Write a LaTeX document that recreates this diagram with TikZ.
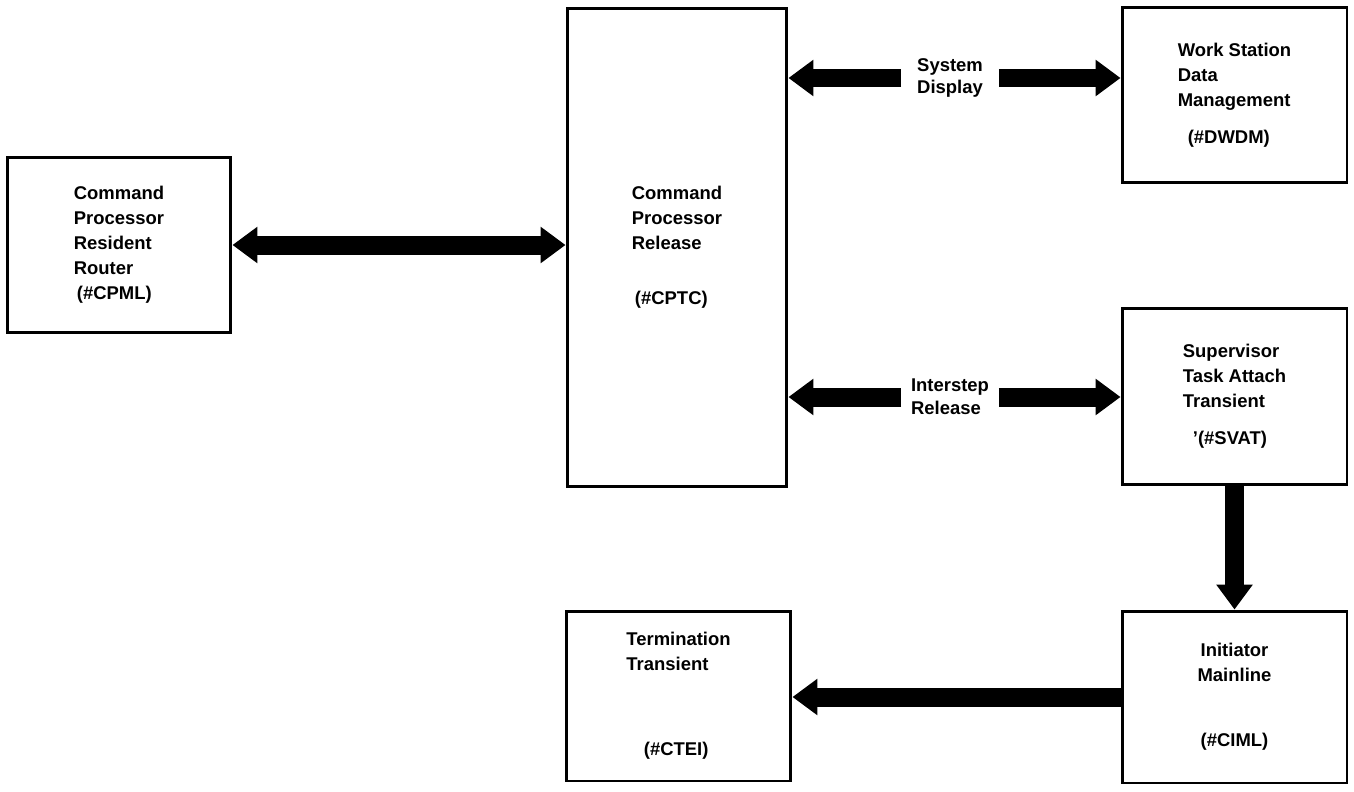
\documentclass[tikz,border=0pt]{standalone}
\usepackage{fontspec}
\setmainfont{Liberation Sans}
\usetikzlibrary{arrows.meta}

\begin{document}
\begin{tikzpicture}[x=0.02cm, y=-0.02cm,
    blk/.style={draw, line width=1.7pt, align=left, inner sep=0pt,
                font=\fontsize{10.5}{14.2}\selectfont\bfseries},
    lbl/.style={align=left, inner sep=0pt, minimum width=1.94cm,
                font=\fontsize{10.5}{13}\selectfont\bfseries},
    fat/.style={line width=0.38cm, -{Triangle[length=0.5cm, width=0.7cm]}},
    fatboth/.style={fat, {Triangle[length=0.5cm, width=0.7cm]}-{Triangle[length=0.5cm, width=0.7cm]}}
  ]
  \useasboundingbox (0,0) rectangle (1354,791);

  % left and middle boxes
  \node[blk, minimum width=4.48cm, minimum height=3.5cm] (cpml) at (119,245)
       {Command\\Processor\\Resident\\Router\\\,(\#CPML)};
  \node[blk, minimum width=4.4cm, minimum height=9.58cm] (cptc) at (677,247.5)
       {Command\\Processor\\Release\\[0.6cm]\,(\#CPTC)};
  \node[blk, minimum width=4.5cm, minimum height=3.4cm] (ctei) at (678.5,696)
       {Termination\\Transient\\[1.2cm]\hspace{0.35cm}(\#CTEI)};

  % right column
  \node[blk, minimum width=4.5cm, minimum height=3.52cm] (dwdm) at (1234.5,95)
       {Work Station\\Data\\Management\\[0.24cm]\hspace{0.2cm}(\#DWDM)};
  \node[blk, minimum width=4.5cm, minimum height=3.54cm] (svat) at (1234.5,396.5)
       {Supervisor\\Task Attach\\Transient\\[0.24cm]\hspace{0.2cm}'(\#SVAT)};
  \node[blk, align=center, minimum width=4.5cm, minimum height=3.44cm] (ciml) at (1234.5,697)
       {Initiator\\Mainline\\[0.8cm](\#CIML)};

  % labels between the arrows
  \node[lbl] (sysdsp) at (950,78) {System\\Display};
  \node[lbl] (intstp) at (950,397) {Interstep\\Release};

  % connectors
  \draw[fatboth] (cpml.east) -- (cpml.east -| cptc.west);
  \draw[fat] (sysdsp.west) -- (sysdsp.west -| cptc.east);
  \draw[fat] (sysdsp.east) -- (sysdsp.east -| dwdm.west);
  \draw[fat] (intstp.west) -- (intstp.west -| cptc.east);
  \draw[fat] (intstp.east) -- (intstp.east -| svat.west);
  \draw[fat] (svat.south) -- (ciml.north);
  \draw[fat] (ciml.west) -- (ciml.west -| ctei.east);
\end{tikzpicture}
\end{document}
